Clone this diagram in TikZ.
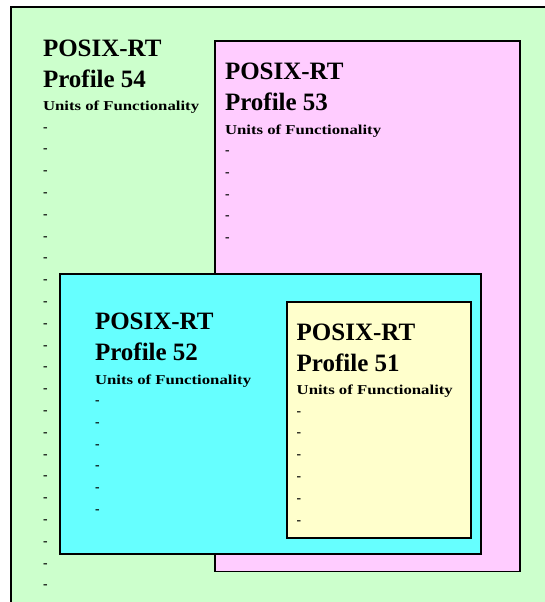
\documentclass[tikz,border=0pt]{standalone}
\usepackage{graphicx}
\usepackage{fontspec}
\setmainfont{Liberation Serif}
\definecolor{bggreen}{RGB}{204,255,204}
\definecolor{bgpink}{RGB}{255,204,255}
\definecolor{bgcyan}{RGB}{102,255,255}
\definecolor{bgyellow}{RGB}{255,255,204}
\tikzset{
  box/.style={draw=black,line width=1.8pt},
  txt/.style={inner sep=0pt,outer sep=0pt,anchor=base west},
  bigtxt/.style={txt,font=\fontsize{25}{30}\selectfont\bfseries},
  smalltxt/.style={txt,font=\fontsize{13.6}{16}\selectfont\bfseries},
}
\newcommand{\proftext}[5]{% name, x, T, number, ndashes
  \node[bigtxt] (#1t) at (#2,#3+16.5) {POSIX-RT};
  \node[bigtxt] (#1p) at (#2,#3+47.5) {Profile #4};
  \node[smalltxt] (#1u) at (#2,#3+70.7) {\scalebox{1.23}[1]{Units of Functionality}};
  \foreach \k in {1,...,#5}{
    \node[smalltxt] (#1d\k) at (#2,#3+91.1+21.8*\k-21.8) {-};
  }
}
\begin{document}
\begin{tikzpicture}[x=1pt,y=-1pt]
\useasboundingbox (0,0) rectangle (545,602);
\clip (0,0) rectangle (545,602);
\fill[white] (0,0) rectangle (545,602);
% outer box 54
\draw[box,fill=bggreen] (11,7) rectangle (570,630);
% box 53
\draw[box,fill=bgpink] (215,40.7) rectangle (520,571.5);
\proftext{a}{43}{40}{54}{22}
\proftext{b}{225}{63.3}{53}{5}
% box 52
\draw[box,fill=bgcyan] (60,274) rectangle (481,554);
\proftext{c}{95}{313.3}{52}{6}
% box 51
\draw[box,fill=bgyellow] (287,302) rectangle (471,538);
\proftext{d}{296.7}{324}{51}{6}
\end{tikzpicture}
\end{document}
